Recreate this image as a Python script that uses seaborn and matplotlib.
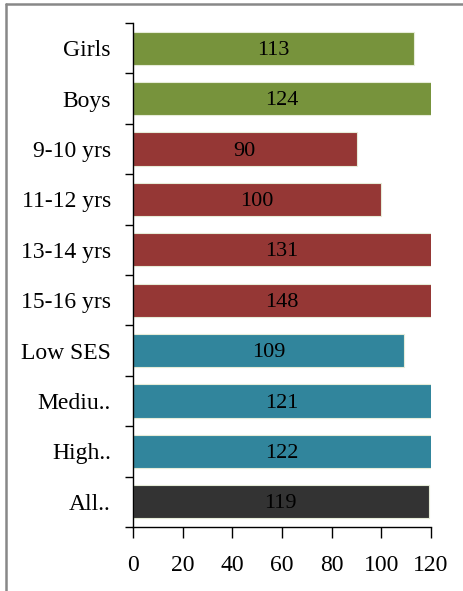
import matplotlib
matplotlib.use("Agg")
import matplotlib.pyplot as plt
from matplotlib.lines import Line2D
import seaborn as sns
import pandas as pd
import numpy as np

categories = ["Girls", "Boys", "9-10 yrs", "11-12 yrs", "13-14 yrs", "15-16 yrs",
              "Low SES", "Mediu..", "High..", "All.."]
values = [113, 124, 90, 100, 131, 148, 109, 121, 122, 119]
groups = ["gender", "gender", "age", "age", "age", "age", "ses", "ses", "ses", "all"]
group_colors = {"gender": "#77933C", "age": "#953735", "ses": "#31859C", "all": "#333333"}
x_ticks = [0, 20, 40, 60, 80, 100, 120]

sns.set_style("ticks")
plt.rcParams["font.family"] = ["Liberation Serif", "DejaVu Serif"]
plt.rcParams["ytick.minor.visible"] = False

df = pd.DataFrame({"category": categories, "value": values, "group": groups})

fig = plt.figure(figsize=(4.64, 5.91), dpi=100)
ax = fig.add_axes([133/464, 1-527/591, (431-133)/464, (527-23)/591])

sns.barplot(data=df, x="value", y="category", hue="group", palette=group_colors,
            order=categories, orient="h", dodge=False, width=0.66, legend=False,
            saturation=1, edgecolor="#e6ecd8", linewidth=0.8, ax=ax)

ax.set_xlim(0, 120)
ax.set_ylim(len(categories) - 0.5, -0.5)
ax.set_xticks(x_ticks)
ax.set_xticklabels([str(t) for t in x_ticks], fontsize=17)
ax.set_yticks(range(len(categories)))
ax.set_yticklabels(categories, fontsize=17)
ax.set_yticks(np.arange(-0.5, len(categories)), minor=True)
ax.tick_params(axis="y", which="major", left=True, length=0, pad=16, labelcolor="black")
ax.tick_params(axis="y", which="minor", left=True, length=6, width=1, color="black", direction="out")
ax.tick_params(axis="x", which="major", bottom=True, length=8, width=1, color="black",
               direction="out", pad=12, labelcolor="black")
ax.tick_params(axis="x", which="minor", bottom=False)
ax.set_xlabel("")
ax.set_ylabel("")
for s in ["top", "right"]:
    ax.spines[s].set_visible(False)
for s in ["left", "bottom"]:
    ax.spines[s].set_color("black")
    ax.spines[s].set_linewidth(1)

for i, v in enumerate(values):
    ax.text(min(v, 120) / 2, i + 0.04, str(v), ha="center", va="center", fontsize=16, color="black")

fig.add_artist(Line2D([6/464, 1], [1-4/591, 1-4/591], color="#888888", linewidth=1.8))
fig.add_artist(Line2D([6/464, 6/464], [0, 1-4/591], color="#888888", linewidth=1.8))

fig.savefig("out.png", dpi=100)
